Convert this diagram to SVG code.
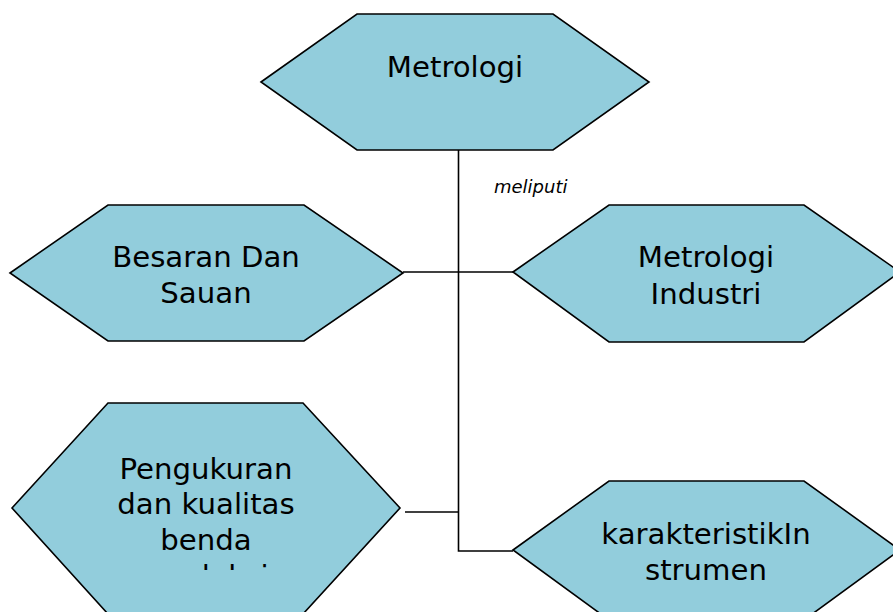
<svg xmlns="http://www.w3.org/2000/svg" width="893" height="612" viewBox="0 0 893 612">
  <style>
    .hex { fill: #92CDDC; stroke: #000; stroke-width: 1.6; stroke-linejoin: miter; }
    .lbl { font-family: "DejaVu Sans", Verdana, sans-serif; font-size: 29.2px; fill: #000; text-anchor: middle; }
    .edge { fill: none; stroke: #000; stroke-width: 1.6; }
    .note { font-family: "DejaVu Sans", Verdana, sans-serif; font-size: 18px; font-style: italic; fill: #000; }
  </style>
  <defs>
    <!-- the text box of the lower-left node ends just below its third line -->
    <clipPath id="pengukuranBox">
      <rect x="0" y="440" width="420" height="130"/>
    </clipPath>
  </defs>
  <rect width="893" height="612" fill="#fff"/>

  <g id="connectors">
    <path class="edge" d="M458.5,150 V551 H513"/>
    <path class="edge" d="M403,272 H513"/>
    <path class="edge" d="M405,512 H458.5"/>
    <text class="note" x="494" y="193">meliputi</text>
  </g>

  <g id="metrologi">
    <polygon class="hex" points="261,82 357,14 553,14 649,82 553,150 357,150"/>
    <text class="lbl" x="455" y="77">Metrologi</text>
  </g>

  <g id="besaran-dan-sauan">
    <polygon class="hex" points="10,273 108,205 304,205 403,273 304,341 108,341"/>
    <text class="lbl" x="206" y="267">Besaran Dan</text>
    <text class="lbl" x="206" y="303">Sauan</text>
  </g>

  <g id="metrologi-industri">
    <polygon class="hex" points="513,272 609,205 804,205 900,272 804,342 609,342"/>
    <text class="lbl" x="706" y="267">Metrologi</text>
    <text class="lbl" x="706" y="304">Industri</text>
  </g>

  <g id="pengukuran">
    <polygon class="hex" points="12,508 108,403 303,403 400,508 303,614 108,614"/>
    <text class="lbl" x="206" y="479">Pengukuran</text>
    <text class="lbl" x="206" y="514">dan kualitas</text>
    <text class="lbl" x="206" y="550">benda</text>
    <text class="lbl" x="206" y="586" clip-path="url(#pengukuranBox)">produksi</text>
  </g>

  <g id="karakteristik-instrumen">
    <polygon class="hex" points="513,550 609,481 804,481 900,550 804,620 609,620"/>
    <text class="lbl" x="706" y="544">karakteristikIn</text>
    <text class="lbl" x="706" y="580">strumen</text>
  </g>
</svg>
